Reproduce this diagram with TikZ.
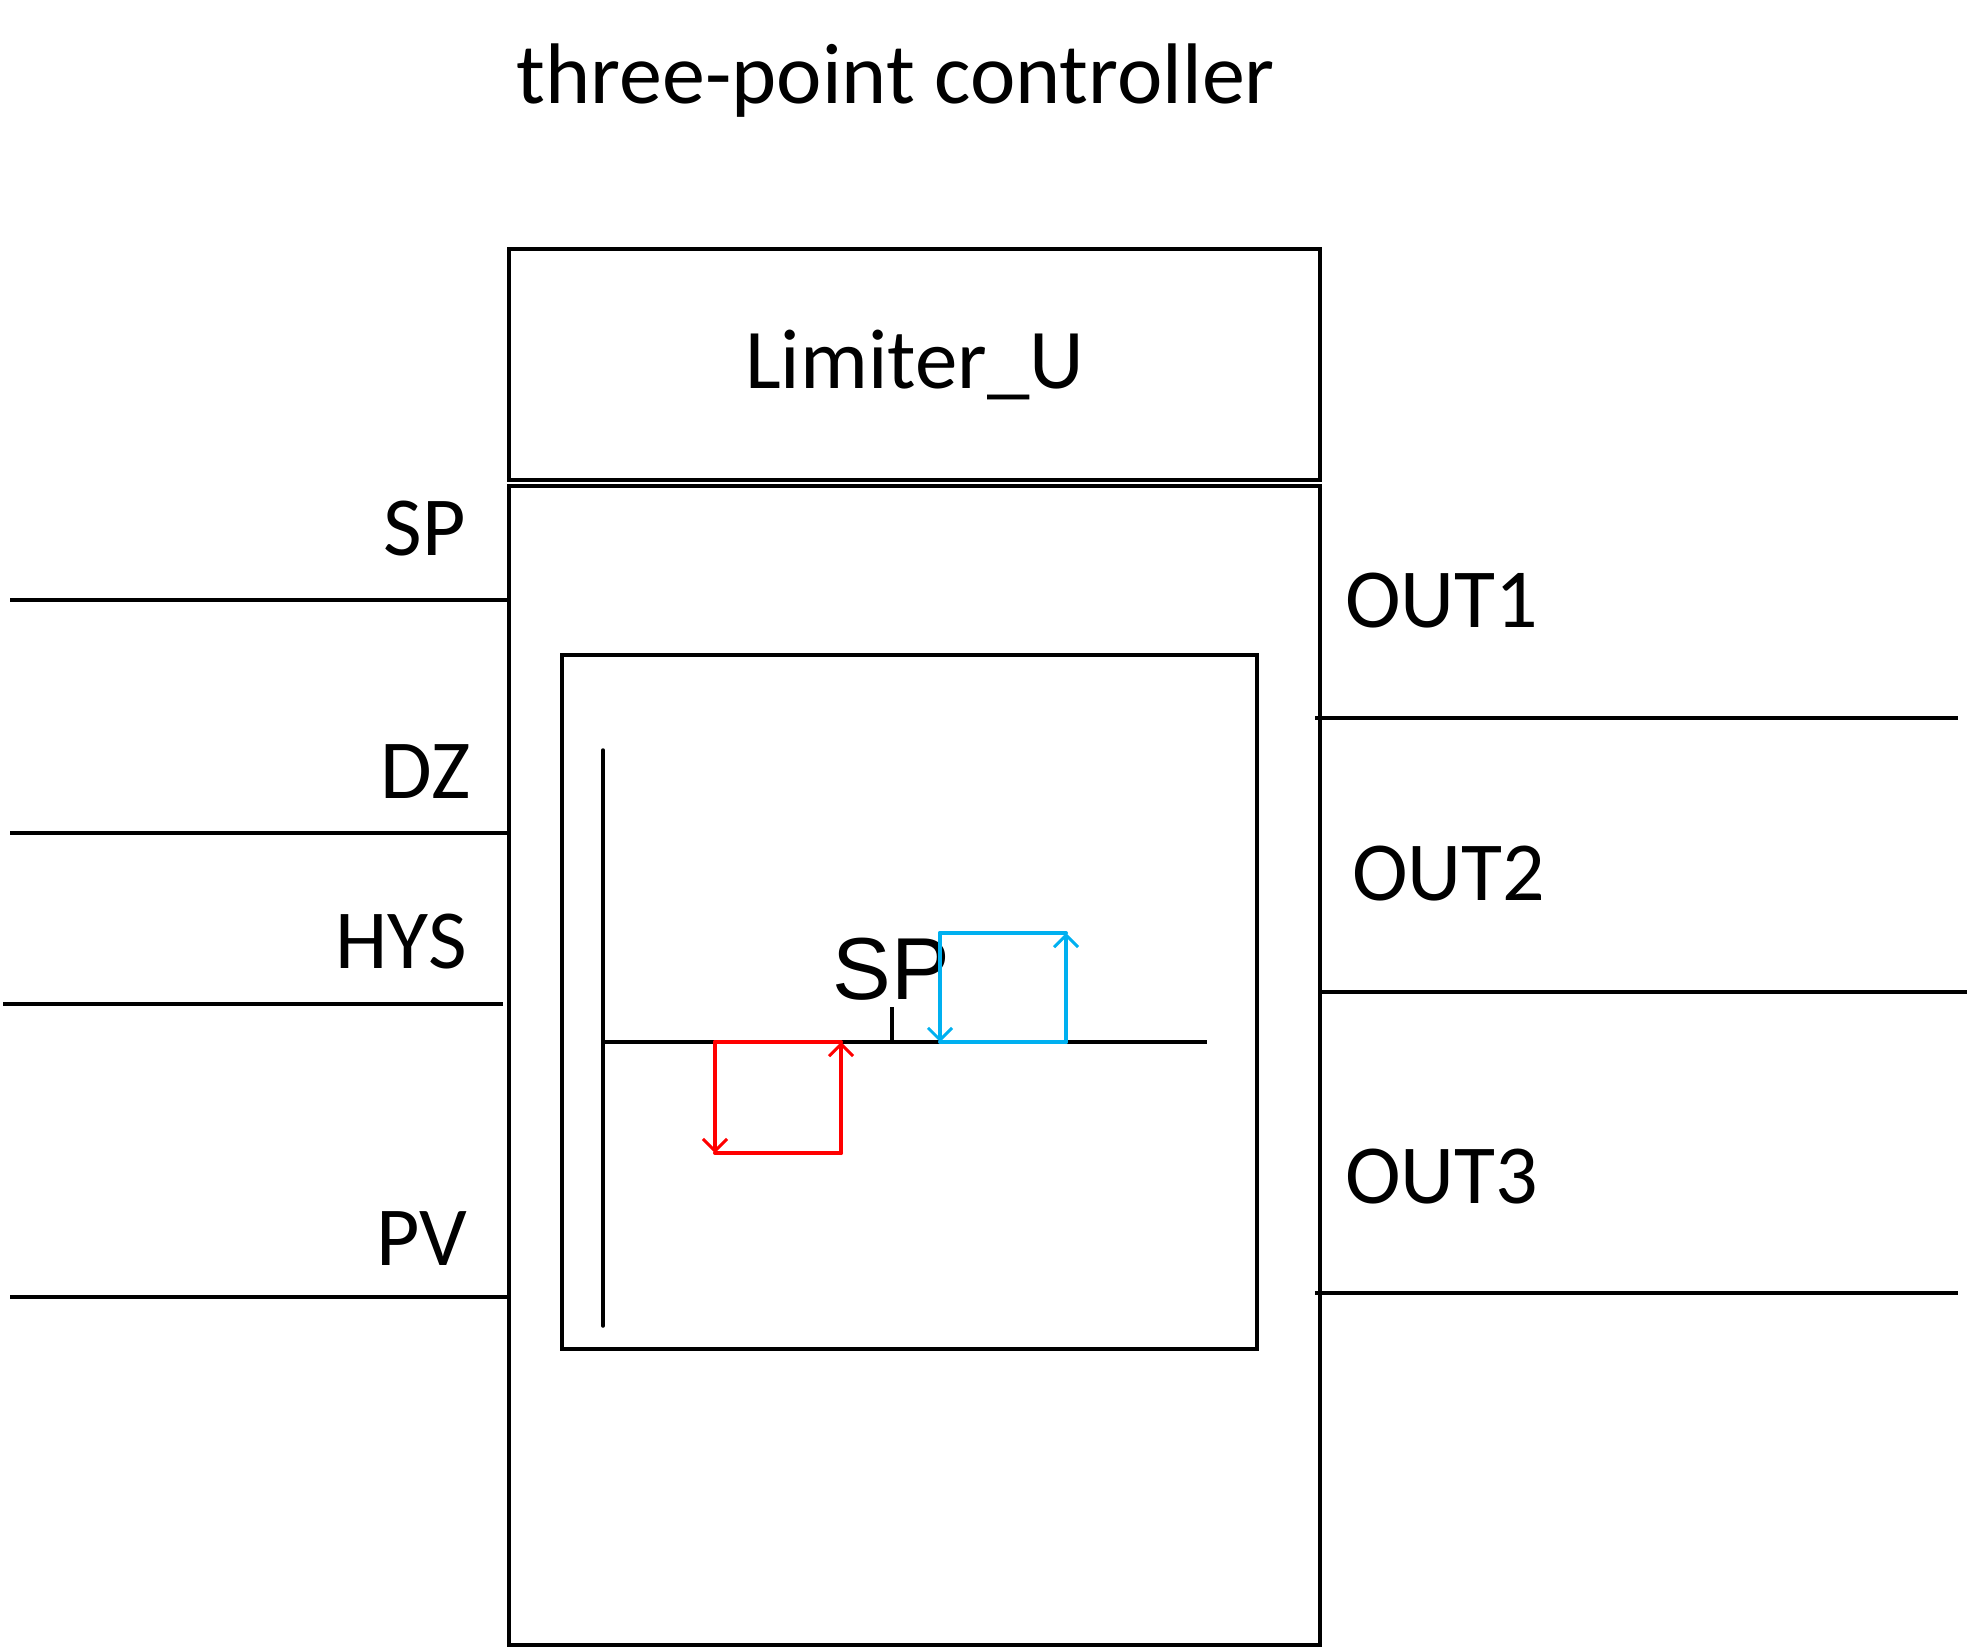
\documentclass[tikz,border=0pt]{standalone}
\usepackage{fontspec}
\setmainfont{Carlito}
\newfontfamily\arialf{Liberation Sans}
\usetikzlibrary{arrows.meta}
\definecolor{cblue}{RGB}{0,176,240}
\definecolor{cred}{RGB}{255,0,0}
\begin{document}
\begin{tikzpicture}[x=1pt,y=-1pt,
  box/.style={draw=black,line width=3.5pt,inner sep=0pt},
  wire/.style={draw=black,line width=3.5pt},
  lbl/.style={inner sep=0pt,font=\fontsize{84}{84}\selectfont},
  curve/.style={line width=4pt,line cap=round},
  tip/.style={-{Straight Barb[length=12pt,width=24pt,line width=3pt]}}]
\useasboundingbox (0,0) rectangle (1971,1648);
% title
\node[lbl,font=\fontsize{86}{86}\selectfont,anchor=base] (title) at (896,104) {three-point controller};
% boxes
\node[box,minimum width=811pt,minimum height=231pt,font=\fontsize{85}{85}\selectfont] (lim) at (914.5,364.5) {Limiter\_U};
\node[box,minimum width=811pt,minimum height=1159pt] (main) at (914.5,1065.5) {};
\node[box,minimum width=695pt,minimum height=694pt] (inner) at (909.5,1002) {};
% input wires
\coordinate (spL) at (10,600);
\coordinate (dzL) at (10,833);
\coordinate (hysL) at (3,1004);
\coordinate (hysR) at (503,1004);
\coordinate (pvL) at (10,1297);
\draw[wire] (spL) -- (spL -| main.west);
\draw[wire] (dzL) -- (dzL -| main.west);
\draw[wire] (hysL) -- (hysR);
\draw[wire] (pvL) -- (pvL -| main.west);
\node[lbl,anchor=base east] (lsp) at (466,555) {SP};
\node[lbl,anchor=base east] (ldz) at (471,798) {DZ};
\node[lbl,anchor=base east] (lhys) at (467,968) {HYS};
\node[lbl,anchor=base east] (lpv) at (467,1265) {PV};
% output wires
\coordinate (o1L) at (1315,718);
\coordinate (o1R) at (1958,718);
\coordinate (o2R) at (1967,992);
\coordinate (o3L) at (1315,1293);
\coordinate (o3R) at (1958,1293);
\draw[wire] (o1L) -- (o1R);
\draw[wire] (o2R -| main.east) -- (o2R);
\draw[wire] (o3L) -- (o3R);
\node[lbl,anchor=base west] (lo1) at (1345,627) {OUT1};
\node[lbl,anchor=base west] (lo2) at (1352,900) {OUT2};
\node[lbl,anchor=base west] (lo3) at (1345,1203) {OUT3};
% axes
\coordinate (ax0) at (603,1042);
\coordinate (axT) at (603,750);
\coordinate (axB) at (603,1326);
\coordinate (axR) at (1207,1042);
\coordinate (tk0) at (892,1042);
\coordinate (tk1) at (892,1007);
\draw[wire,line cap=round] (axT) -- (axB);
\draw[wire] (ax0) -- (axR);
\draw[wire] (tk0) -- (tk1);
\node[inner sep=0pt,anchor=base,font=\arialf\fontsize{88}{88}\selectfont] (isp) at (891,999) {SP};
% blue hysteresis
\coordinate (b1) at (940,933);
\coordinate (b2) at (1066,933);
\coordinate (b3) at (1066,1042);
\coordinate (b4) at (940,1042);
\draw[curve,cblue] (b1) -- (b2);
\draw[curve,cblue] (b4) -- (b3);
\draw[curve,cblue,tip] (b1) -- (b4);
\draw[curve,cblue,tip] (b3) -- (b2);
% red hysteresis
\coordinate (r1) at (715,1042);
\coordinate (r2) at (841,1042);
\coordinate (r3) at (841,1153);
\coordinate (r4) at (715,1153);
\draw[curve,cred] (r1) -- (r2);
\draw[curve,cred] (r4) -- (r3);
\draw[curve,cred,tip] (r1) -- (r4);
\draw[curve,cred,tip] (r3) -- (r2);
\end{tikzpicture}
\end{document}
